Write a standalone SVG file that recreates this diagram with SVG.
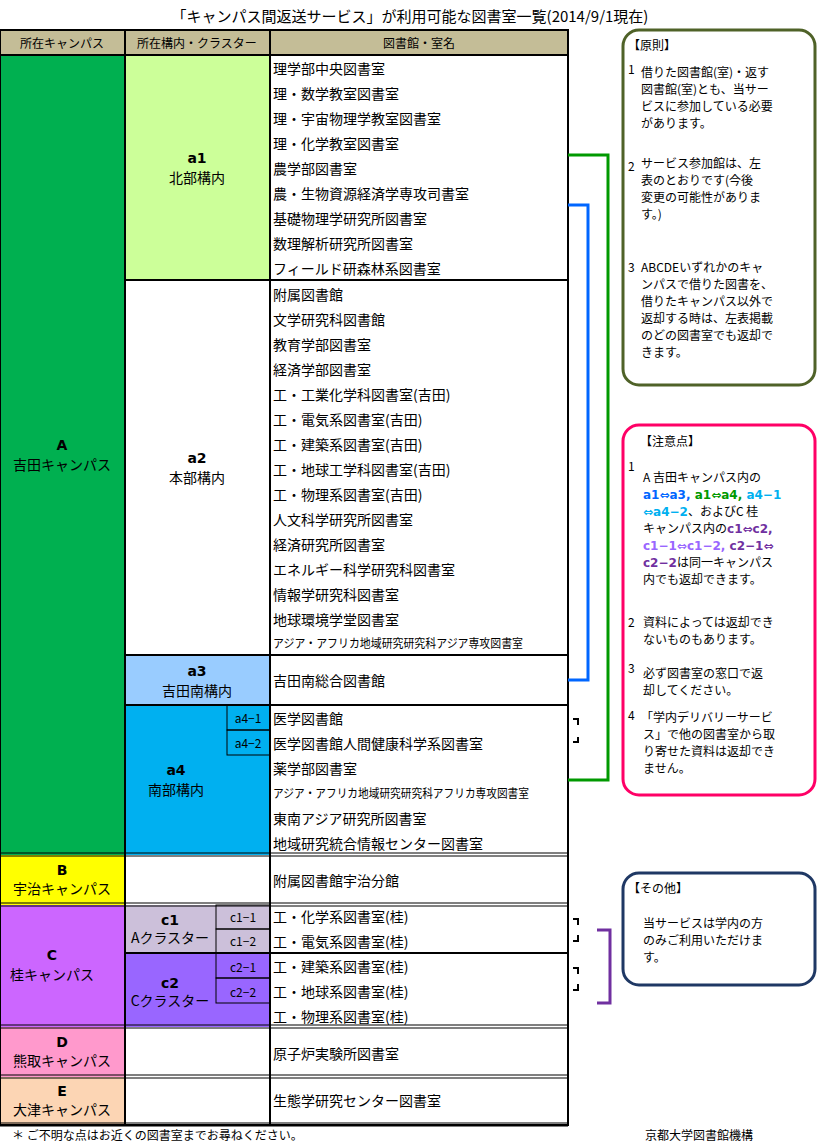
<svg xmlns="http://www.w3.org/2000/svg" width="825" height="1144" viewBox="0 0 825 1144">
<style>
text{font-family:"Noto Sans CJK JP","Noto Sans",sans-serif;font-size:14px;fill:#000}
.c{text-anchor:middle}
.b{font-weight:bold;font-family:"DejaVu Sans","Noto Sans CJK JP",sans-serif}
.s{font-size:12px}
.g{stroke:#000;stroke-width:2;fill:none}
.t{stroke:#000;stroke-width:1;fill:none}
.n{font-size:12px}
</style>
<rect width="825" height="1144" fill="#fff"/>
<text x="410" y="22" class="c" style="font-size:15px">「キャンパス間返送サービス」が利用可能な図書室一覧(2014/9/1現在)</text>
<g id="header">
<rect x="0" y="30" width="568" height="25" fill="#c4bd97"/>
<text x="62" y="48" class="c s">所在キャンパス</text>
<text x="197" y="48" class="c s">所在構内・クラスター</text>
<text x="419" y="48" class="c s">図書館・室名</text>
</g>
<g id="cells">
<rect x="0" y="55" width="125" height="800" fill="#00b050"/>
<rect x="125" y="55" width="145" height="225" fill="#ccff99"/>
<rect x="125" y="655" width="145" height="50" fill="#99ccff"/>
<rect x="125" y="705" width="145" height="150" fill="#00b0f0"/>
<rect x="0" y="855" width="125" height="50" fill="#ffff00"/>
<rect x="0" y="905" width="125" height="122" fill="#cc66ff"/>
<rect x="125" y="905" width="145" height="48" fill="#ccc0da"/>
<rect x="125" y="953" width="145" height="74" fill="#9966ff"/>
<rect x="0" y="1027" width="125" height="50" fill="#ff99cc"/>
<rect x="0" y="1077" width="125" height="48" fill="#fcd5b4"/>
</g>
<g id="grid">
<rect x="0" y="30" width="568" height="1095" class="g"/>
<line x1="0" y1="55" x2="568" y2="55" class="g"/>
<line x1="125" y1="30" x2="125" y2="1125" class="g"/>
<line x1="270" y1="30" x2="270" y2="1125" class="g"/>
<line x1="125" y1="280" x2="568" y2="280" class="g"/>
<line x1="125" y1="655" x2="568" y2="655" class="g"/>
<line x1="125" y1="705" x2="568" y2="705" class="g"/>
<line x1="0" y1="853" x2="568" y2="853" class="t"/><line x1="0" y1="856" x2="568" y2="856" class="t"/>
<line x1="0" y1="903" x2="568" y2="903" class="t"/><line x1="0" y1="906" x2="568" y2="906" class="t"/>
<line x1="125" y1="953" x2="568" y2="953" class="g"/>
<line x1="0" y1="1025" x2="568" y2="1025" class="t"/><line x1="0" y1="1028" x2="568" y2="1028" class="t"/>
<line x1="0" y1="1075" x2="568" y2="1075" class="t"/><line x1="0" y1="1078" x2="568" y2="1078" class="t"/>
<line x1="0" y1="1123" x2="568" y2="1123" class="t"/><line x1="0" y1="1126" x2="568" y2="1126" class="t"/>
<rect x="227" y="705" width="43" height="25" class="t"/>
<rect x="227" y="730" width="43" height="25" class="t"/>
<rect x="216" y="905" width="54" height="24" class="t"/>
<rect x="216" y="929" width="54" height="24" class="t"/>
<rect x="216" y="953" width="54" height="25" class="t"/>
<rect x="216" y="978" width="54" height="25" class="t"/>
</g>
<g id="labels">
<text x="62" y="450" class="c b">A</text><text x="62" y="470" class="c">吉田キャンパス</text>
<text x="197" y="163" class="c b">a1</text><text x="197" y="183" class="c">北部構内</text>
<text x="197" y="463" class="c b">a2</text><text x="197" y="483" class="c">本部構内</text>
<text x="197" y="676" class="c b">a3</text><text x="197" y="696" class="c">吉田南構内</text>
<text x="176" y="775" class="c b">a4</text><text x="176" y="795" class="c">南部構内</text>
<text x="248" y="723" class="c s">a4−1</text><text x="248" y="748" class="c s">a4−2</text>
<text x="62" y="875" class="c b">B</text><text x="62" y="894" class="c">宇治キャンパス</text>
<text x="52" y="960" class="c b">C</text><text x="52" y="980" class="c">桂キャンパス</text>
<text x="170" y="925" class="c b">c1</text><text x="170" y="943" class="c">Aクラスター</text>
<text x="170" y="988" class="c b">c2</text><text x="170" y="1006" class="c">Cクラスター</text>
<text x="243" y="922" class="c s">c1−1</text><text x="243" y="946" class="c s">c1−2</text>
<text x="243" y="972" class="c s">c2−1</text><text x="243" y="997" class="c s">c2−2</text>
<text x="62" y="1047" class="c b">D</text><text x="62" y="1066" class="c">熊取キャンパス</text>
<text x="62" y="1096" class="c b">E</text><text x="62" y="1115" class="c">大津キャンパス</text>
</g>
<g id="libraries">
<text x="273" y="74">理学部中央図書室</text>
<text x="273" y="99">理・数学教室図書室</text>
<text x="273" y="124">理・宇宙物理学教室図書室</text>
<text x="273" y="149">理・化学教室図書室</text>
<text x="273" y="174">農学部図書室</text>
<text x="273" y="199">農・生物資源経済学専攻司書室</text>
<text x="273" y="224">基礎物理学研究所図書室</text>
<text x="273" y="249">数理解析研究所図書室</text>
<text x="273" y="274">フィールド研森林系図書室</text>
<text x="273" y="300">附属図書館</text>
<text x="273" y="325">文学研究科図書館</text>
<text x="273" y="350">教育学部図書室</text>
<text x="273" y="375">経済学部図書室</text>
<text x="273" y="400">工・工業化学科図書室(吉田)</text>
<text x="273" y="425">工・電気系図書室(吉田)</text>
<text x="273" y="450">工・建築系図書室(吉田)</text>
<text x="273" y="475">工・地球工学科図書室(吉田)</text>
<text x="273" y="500">工・物理系図書室(吉田)</text>
<text x="273" y="525">人文科学研究所図書室</text>
<text x="273" y="550">経済研究所図書室</text>
<text x="273" y="575">エネルギー科学研究科図書室</text>
<text x="273" y="600">情報学研究科図書室</text>
<text x="273" y="625">地球環境学堂図書室</text>
<text x="273" y="648" class="n" textLength="250" lengthAdjust="spacingAndGlyphs">アジア・アフリカ地域研究研究科アジア専攻図書室</text>
<text x="273" y="686">吉田南総合図書館</text>
<text x="273" y="724">医学図書館</text>
<text x="273" y="749">医学図書館人間健康科学系図書室</text>
<text x="273" y="774">薬学部図書室</text>
<text x="273" y="798" class="n" textLength="256" lengthAdjust="spacingAndGlyphs">アジア・アフリカ地域研究研究科アフリカ専攻図書室</text>
<text x="273" y="824">東南アジア研究所図書室</text>
<text x="273" y="849">地域研究統合情報センター図書室</text>
<text x="273" y="886">附属図書館宇治分館</text>
<text x="273" y="922">工・化学系図書室(桂)</text>
<text x="273" y="947">工・電気系図書室(桂)</text>
<text x="273" y="972">工・建築系図書室(桂)</text>
<text x="273" y="997">工・地球系図書室(桂)</text>
<text x="273" y="1022">工・物理系図書室(桂)</text>
<text x="273" y="1059">原子炉実験所図書室</text>
<text x="273" y="1106">生態学研究センター図書室</text>
</g>
<g id="connectors" fill="none" stroke-width="3">
<polyline points="568,155 608,155 608,780 568,780" stroke="#009900"/>
<polyline points="568,205 588,205 588,680 568,680" stroke="#0066ff"/>
<polyline points="597,930 610,930 610,1003 597,1003" stroke="#7030a0"/>
<g stroke="#000" stroke-width="2">
<polyline points="573,719 578,719 578,725"/><polyline points="573,742 578,742 578,737"/>
<polyline points="573,919 578,919 578,925"/><polyline points="573,941 578,941 578,935"/>
<polyline points="573,968 578,968 578,974"/><polyline points="573,990 578,990 578,984"/>
</g>
</g>
<g id="box1">
<rect x="623" y="30" width="192" height="355" rx="16" fill="#fff" stroke="#4f6228" stroke-width="3"/>
<text x="628" y="50" class="s">【原則】</text>
<text x="628" y="74" class="s">1</text>
<text x="641" y="77" class="s">借りた図書館(室)・返す</text>
<text x="641" y="94" class="s">図書館(室)とも、当サー</text>
<text x="641" y="111" class="s">ビスに参加している必要</text>
<text x="641" y="128" class="s">があります。</text>
<text x="628" y="171" class="s">2</text>
<text x="641" y="168" class="s">サービス参加館は、左</text>
<text x="641" y="185" class="s">表のとおりです(今後</text>
<text x="641" y="202" class="s">変更の可能性がありま</text>
<text x="641" y="219" class="s">す。)</text>
<text x="628" y="272" class="s">3</text>
<text x="641" y="272" class="s">ABCDEいずれかのキャ</text>
<text x="641" y="289" class="s">ンパスで借りた図書を、</text>
<text x="641" y="306" class="s">借りたキャンパス以外で</text>
<text x="641" y="323" class="s">返却する時は、左表掲載</text>
<text x="641" y="340" class="s">のどの図書室でも返却で</text>
<text x="641" y="357" class="s">きます。</text>
</g>
<g id="box2">
<rect x="623" y="425" width="192" height="370" rx="16" fill="#fff" stroke="#ff0066" stroke-width="3"/>
<text x="640" y="446" class="s">【注意点】</text>
<text x="628" y="471" class="s">1</text>
<text x="643" y="482" class="s">A 吉田キャンパス内の</text>
<text x="643" y="499" class="s b"><tspan fill="#0066ff">a1⇔a3, </tspan><tspan fill="#009900">a1⇔a4, </tspan><tspan fill="#00b0f0">a4−1</tspan></text>
<text x="643" y="516" class="s"><tspan class="b" fill="#00b0f0">⇔a4−2</tspan>、およびC 桂</text>
<text x="643" y="533" class="s">キャンパス内の<tspan class="b" fill="#7030a0">c1⇔c2,</tspan></text>
<text x="643" y="550" class="s b"><tspan fill="#9966ff">c1−1⇔c1−2, </tspan><tspan fill="#7030a0">c2−1⇔</tspan></text>
<text x="643" y="567" class="s"><tspan class="b" fill="#7030a0">c2−2</tspan>は同一キャンパス</text>
<text x="643" y="584" class="s">内でも返却できます。</text>
<text x="628" y="627" class="s">2</text>
<text x="643" y="627" class="s">資料によっては返却でき</text>
<text x="643" y="644" class="s">ないものもあります。</text>
<text x="628" y="673" class="s">3</text>
<text x="643" y="678" class="s">必ず図書室の窓口で返</text>
<text x="643" y="695" class="s">却してください。</text>
<text x="628" y="720" class="s">4</text>
<text x="641" y="722" class="s">「学内デリバリーサービ</text>
<text x="643" y="739" class="s">ス」で他の図書室から取</text>
<text x="643" y="756" class="s">り寄せた資料は返却でき</text>
<text x="643" y="773" class="s">ません。</text>
</g>
<g id="box3">
<rect x="623" y="873" width="192" height="112" rx="16" fill="#fff" stroke="#1f3864" stroke-width="3"/>
<text x="628" y="893" class="s">【その他】</text>
<text x="643" y="928" class="s">当サービスは学内の方</text>
<text x="643" y="945" class="s">のみご利用いただけま</text>
<text x="643" y="962" class="s">す。</text>
</g>
<text x="12" y="1140" class="s">＊  ご不明な点はお近くの図書室までお尋ねください。</text>
<text x="645" y="1140" class="s">京都大学図書館機構</text>
</svg>
